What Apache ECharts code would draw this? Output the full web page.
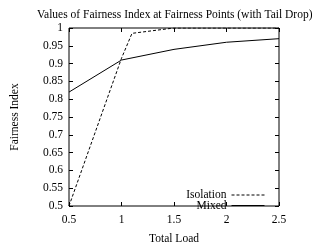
<!DOCTYPE html>
<html>
<head>
<meta charset="utf-8">
<script src="https://cdn.jsdelivr.net/npm/echarts@6/dist/echarts.min.js"></script>
<style>
  html, body { margin: 0; padding: 0; background: #fff; }
  #chart { width: 312px; height: 250px; }
</style>
</head>
<body>
<div id="chart"></div>
<script>
  // data
  const isolationX = [0.5, 1.0, 1.1, 1.5, 2.0, 2.5]
  const isolationY = [0.5, 0.915, 0.985, 1.0, 1.0, 1.0]
  const mixedX = [0.5, 1.0, 1.5, 2.0, 2.5]
  const mixedY = [0.82, 0.91, 0.94, 0.96, 0.97]

  const font = 'Liberation Serif'
  const fs = 11.5
  const pairs = (xs, ys) => xs.map((x, i) => [x, ys[i]])

  const chart = echarts.init(document.getElementById('chart'))

  const mirrorAxis = {
    axisLine: { show: false },
    axisTick: { show: true, inside: true, length: 4, lineStyle: { color: '#000' } },
    axisLabel: { show: false },
    splitLine: { show: false }
  }

  const legendBase = {
    right: 42,
    align: 'right',
    itemWidth: 33,
    itemHeight: 8,
    itemGap: 0,
    itemStyle: { opacity: 0 },
    lineStyle: { width: 1 },
    textStyle: { fontFamily: font, fontSize: fs, color: '#000' }
  }

  chart.setOption({
    animation: false,
    title: {
      text: 'Values of Fairness Index at Fairness Points (with Tail Drop)',
      left: 32,
      top: 4,
      textStyle: { fontFamily: font, fontSize: fs, fontWeight: 'normal', color: '#000' }
    },
    legend: [
      Object.assign({ top: 184, data: ['Isolation'] }, legendBase),
      Object.assign({ top: 194.5, data: ['Mixed'] }, legendBase)
    ],
    grid: {
      left: 69,
      right: 33,
      top: 28,
      bottom: 36,
      show: true,
      borderColor: '#000',
      borderWidth: 1
    },
    xAxis: [
      {
        type: 'value',
        min: 0.5,
        max: 2.5,
        interval: 0.5,
        name: 'Total Load',
        nameLocation: 'middle',
        nameGap: 27,
        nameTextStyle: { fontFamily: font, fontSize: fs, color: '#000' },
        axisLine: { show: false },
        axisTick: { inside: true, length: 4, lineStyle: { color: '#000' } },
        axisLabel: { fontFamily: font, fontSize: fs, color: '#000', margin: 8 },
        splitLine: { show: false }
      },
      Object.assign({ type: 'value', position: 'top', min: 0.5, max: 2.5, interval: 0.5 }, mirrorAxis)
    ],
    yAxis: [
      {
        type: 'value',
        min: 0.5,
        max: 1,
        interval: 0.05,
        name: 'Fairness Index',
        nameLocation: 'middle',
        nameGap: 48,
        nameTextStyle: { fontFamily: font, fontSize: fs, color: '#000' },
        axisLine: { show: false },
        axisTick: { inside: true, length: 4, lineStyle: { color: '#000' } },
        axisLabel: {
          fontFamily: font,
          fontSize: fs,
          color: '#000',
          margin: 6,
          formatter: (v) => String(Math.round(v * 100) / 100)
        },
        splitLine: { show: false }
      },
      Object.assign({ type: 'value', position: 'right', min: 0.5, max: 1, interval: 0.05 }, mirrorAxis)
    ],
    series: [
      {
        name: 'Isolation',
        type: 'line',
        symbol: 'none',
        data: pairs(isolationX, isolationY),
        lineStyle: { color: '#000', width: 1, type: [3, 2] },
        itemStyle: { color: '#000' }
      },
      {
        name: 'Mixed',
        type: 'line',
        symbol: 'none',
        data: pairs(mixedX, mixedY),
        lineStyle: { color: '#000', width: 1 },
        itemStyle: { color: '#000' }
      }
    ]
  })
</script>
</body>
</html>
